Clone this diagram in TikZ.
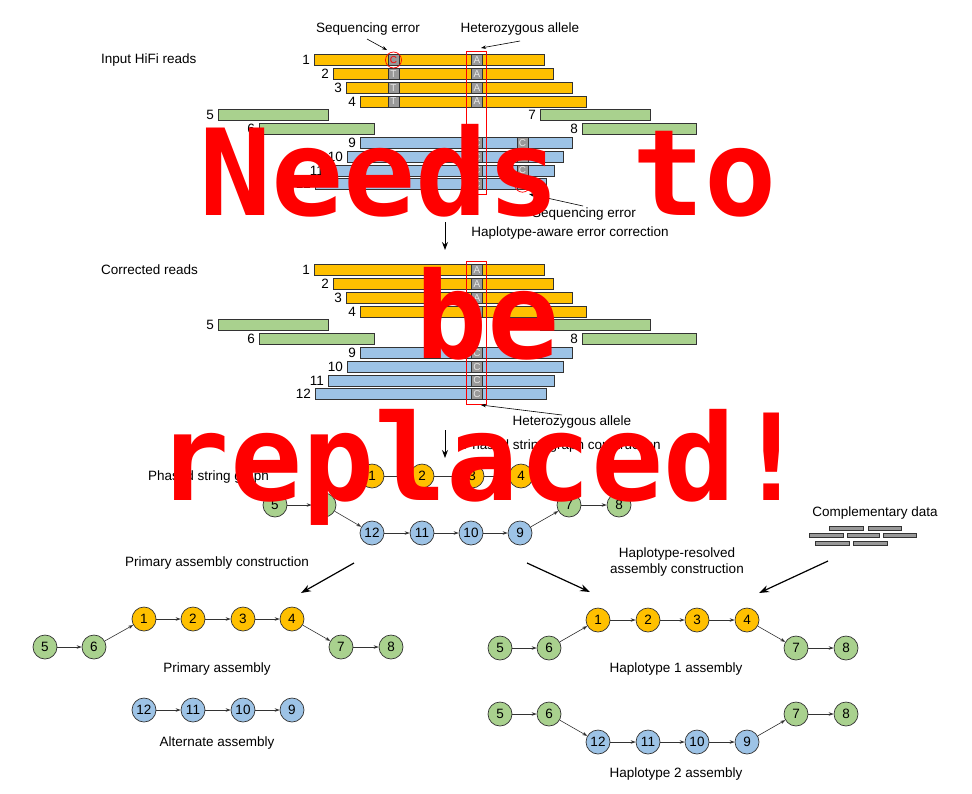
\documentclass[tikz,border=0pt]{standalone}
\usepackage{fontspec}
\setmainfont{Liberation Sans}
\newfontfamily\stampfont{DejaVu Sans Mono}
\usetikzlibrary{arrows.meta,positioning}
\definecolor{hapone}{HTML}{FFC000}
\definecolor{hapmix}{HTML}{A9D18E}
\definecolor{haptwo}{HTML}{9DC3E6}
\definecolor{edgegray}{HTML}{333333}
\definecolor{basegray}{HTML}{999999}
\tikzset{
  lbl/.style={font=\fontsize{13.5}{17}\selectfont, inner sep=0pt},
  readbar/.style={draw=edgegray, line width=0.8pt, minimum height=11pt, inner sep=0pt, anchor=west},
  basebox/.style={draw=edgegray, fill=basegray, line width=0.8pt, minimum width=11pt, minimum height=11pt,
    inner sep=0pt, text=white!90!black, font=\fontsize{10}{10}\selectfont},
  ctg/.style={circle, draw=edgegray, line width=0.7pt, minimum size=24pt, inner sep=0pt,
    font=\fontsize{13.5}{13.5}\selectfont},
  edge/.style={draw=edgegray, line width=0.6pt, -{Stealth[length=5pt,width=3.5pt]}},
  link/.style={draw=edgegray, line width=0.6pt},
  pointer/.style={line width=0.6pt, -{Stealth[length=5pt,width=3.5pt]}},
  bigarrow/.style={line width=1.2pt, -{Stealth[length=10pt,width=7pt]}},
  stamp/.style={text=red, anchor=base, inner sep=0pt, font=\stampfont\bfseries\fontsize{120}{120}\selectfont},
}
% name, colour, left x, length, y, number
\newcommand{\hifiread}[6]{%
  \node[readbar, fill=#2, minimum width=#4pt] (#1) at (#3,#5) {};
  \node[lbl, left=4pt of #1] (#1l) {#6};
}

\begin{document}
\begin{tikzpicture}[x=1pt, y=-1pt]
  %%%%% START %%%%%
  \useasboundingbox (0,0) rectangle (972,793);

  % input reads
  \node[lbl, anchor=west] (inlabel) at (101,60) {Input HiFi reads};
  \hifiread{in1}{hapone}{314}{230}{60}{1}
  \hifiread{in2}{hapone}{333}{220}{73.8}{2}
  \hifiread{in3}{hapone}{346}{226}{87.6}{3}
  \hifiread{in4}{hapone}{360}{226}{101.4}{4}
  \hifiread{in5}{hapmix}{218}{110}{115.2}{5}
  \hifiread{in6}{hapmix}{259}{115}{129}{6}
  \hifiread{in7}{hapmix}{540}{110}{115.2}{7}
  \hifiread{in8}{hapmix}{582}{114}{129}{8}
  \hifiread{in9}{haptwo}{360}{212}{142.8}{9}
  \hifiread{in10}{haptwo}{347}{216}{156.6}{10}
  \hifiread{in11}{haptwo}{328}{226}{170.4}{11}
  \hifiread{in12}{haptwo}{315}{231}{184.2}{12}

  \node[basebox, text=red] (in1t) at (393.5,60) {C};
  \node[basebox] (in2t) at (393.5,73.8) {T};
  \node[basebox] (in3t) at (393.5,87.6) {T};
  \node[basebox] (in4t) at (393.5,101.4) {T};
  \node[basebox] (in1a) at (477,60) {A};
  \node[basebox] (in2a) at (477,73.8) {A};
  \node[basebox] (in3a) at (477,87.6) {A};
  \node[basebox] (in4a) at (477,101.4) {A};
  \node[basebox] (in9a) at (477,142.8) {C};
  \node[basebox] (in10a) at (477,156.6) {C};
  \node[basebox] (in11a) at (477,170.4) {C};
  \node[basebox] (in12a) at (477,184.2) {C};
  \node[basebox] (in9e) at (522.5,142.8) {C};
  \node[basebox] (in10e) at (522.5,156.6) {C};
  \node[basebox] (in11e) at (522.5,170.4) {C};
  \node[basebox] (in12e) at (522.5,184.2) {T};

  \draw[red, line width=0.7pt] (in1t) circle (8);
  \draw[red, line width=0.7pt] (in12e) circle (8);
  \draw[red, line width=0.6pt] (466,51) rectangle (486,194);

  \node[lbl] (seqtop) at (368,29) {Sequencing error};
  \node[lbl] (hettop) at (520,29) {Heterozygous allele};
  \coordinate (seqtoptail) at (367,39);
  \coordinate (seqtophead) at (387,50);
  \coordinate (hettoptail) at (520,41);
  \coordinate (hettophead) at (481,48);
  \draw[pointer] (seqtoptail) -- (seqtophead);
  \draw[pointer] (hettoptail) -- (hettophead);

  \node[lbl] (seqlow) at (584,214) {Sequencing error};
  \coordinate (seqlowtail) at (583,206);
  \coordinate (seqlowhead) at (529,194);
  \draw[pointer] (seqlowtail) -- (seqlowhead);

  \node[lbl] (correct) at (570,233) {Haplotype-aware error correction};
  \coordinate (stepone) at (445,222);
  \coordinate (steptwo) at (445,250);
  \draw[pointer, line width=1pt, -{Stealth[length=8pt,width=6pt]}] (stepone) -- (steptwo);

  % corrected reads
  \node[lbl, anchor=west] (colabel) at (101,270) {Corrected reads};
  \hifiread{co1}{hapone}{314}{230}{270}{1}
  \hifiread{co2}{hapone}{333}{220}{283.8}{2}
  \hifiread{co3}{hapone}{346}{226}{297.6}{3}
  \hifiread{co4}{hapone}{360}{226}{311.4}{4}
  \hifiread{co5}{hapmix}{218}{110}{325.2}{5}
  \hifiread{co6}{hapmix}{259}{115}{339}{6}
  \hifiread{co7}{hapmix}{540}{110}{325.2}{7}
  \hifiread{co8}{hapmix}{582}{114}{339}{8}
  \hifiread{co9}{haptwo}{360}{212}{352.8}{9}
  \hifiread{co10}{haptwo}{347}{216}{366.6}{10}
  \hifiread{co11}{haptwo}{328}{226}{380.4}{11}
  \hifiread{co12}{haptwo}{315}{231}{394.2}{12}

  \node[basebox] (co1a) at (477,270) {A};
  \node[basebox] (co2a) at (477,283.8) {A};
  \node[basebox] (co3a) at (477,297.6) {A};
  \node[basebox] (co4a) at (477,311.4) {A};
  \node[basebox] (co9a) at (477,352.8) {C};
  \node[basebox] (co10a) at (477,366.6) {C};
  \node[basebox] (co11a) at (477,380.4) {C};
  \node[basebox] (co12a) at (477,394.2) {C};
  \draw[red, line width=0.6pt] (466,261) rectangle (486,404);

  \node[lbl] (hetlow) at (572,422) {Heterozygous allele};
  \coordinate (hetlowtail) at (562,415);
  \coordinate (hetlowhead) at (481,405);
  \draw[pointer] (hetlowtail) -- (hetlowhead);

  \node[lbl] (phasing) at (562,446) {Phased string graph construction};
  \coordinate (stepthree) at (445,430);
  \coordinate (stepfour) at (445,458);
  \draw[pointer, line width=1pt, -{Stealth[length=8pt,width=6pt]}] (stepthree) -- (stepfour);

  % phased string graph
  \node[lbl, anchor=west] (pglabel) at (148,477) {Phased string graph};
  \node[ctg, fill=hapone] (p1) at (372,476) {1};
  \node[ctg, fill=hapone] (p2) at (422,476) {2};
  \node[ctg, fill=hapone] (p3) at (472,476) {3};
  \node[ctg, fill=hapone] (p4) at (521,476) {4};
  \node[ctg, fill=hapmix] (p5) at (275,505) {5};
  \node[ctg, fill=hapmix] (p6) at (324,505) {6};
  \node[ctg, fill=hapmix] (p7) at (569,505) {7};
  \node[ctg, fill=hapmix] (p8) at (619,505) {8};
  \node[ctg, fill=haptwo] (p12) at (372,533) {12};
  \node[ctg, fill=haptwo] (p11) at (422,533) {11};
  \node[ctg, fill=haptwo] (p10) at (471,533) {10};
  \node[ctg, fill=haptwo] (p9) at (520,533) {9};
  \draw[edge] (p5) -- (p6);
  \draw[edge] (p6) -- (p1);
  \draw[link] (p1) -- (p2);
  \draw[link] (p2) -- (p3);
  \draw[link] (p3) -- (p4);
  \draw[edge] (p4) -- (p7);
  \draw[edge] (p6) -- (p12);
  \draw[edge] (p12) -- (p11);
  \draw[edge] (p11) -- (p10);
  \draw[edge] (p10) -- (p9);
  \draw[edge] (p9) -- (p7);
  \draw[edge] (p7) -- (p8);

  % assembly steps
  \node[lbl] (primstep) at (217,563) {Primary assembly construction};
  \node[lbl, align=center] (hapstep) at (677,562) {Haplotype-resolved\\assembly construction};
  \node[lbl] (compdata) at (875,513) {Complementary data};
  \foreach \xa/\xb/\yy in {829/863/528, 868/901/528, 809/843/535.5, 847/879/535.5, 883/916/535.5,
                           815/849/543, 853/887/543}
    \draw[draw=edgegray, fill=basegray, line width=0.6pt] (\xa,\yy-2) rectangle (\xb,\yy+2);
  \coordinate (primtail) at (354,563);
  \coordinate (primhead) at (301,593);
  \coordinate (haptail) at (527,563);
  \coordinate (haphead) at (590,592);
  \coordinate (comptail) at (828,561);
  \coordinate (comphead) at (759,593);
  \draw[bigarrow] (primtail) -- (primhead);
  \draw[bigarrow] (haptail) -- (haphead);
  \draw[bigarrow] (comptail) -- (comphead);

  % primary and alternate assembly
  \node[ctg, fill=hapmix] (a5) at (45,647) {5};
  \node[ctg, fill=hapmix] (a6) at (94,647) {6};
  \node[ctg, fill=hapone] (a1) at (144,619) {1};
  \node[ctg, fill=hapone] (a2) at (193,619) {2};
  \node[ctg, fill=hapone] (a3) at (243,619) {3};
  \node[ctg, fill=hapone] (a4) at (292,619) {4};
  \node[ctg, fill=hapmix] (a7) at (341,647) {7};
  \node[ctg, fill=hapmix] (a8) at (391,647) {8};
  \draw[edge] (a5) -- (a6);
  \draw[edge] (a6) -- (a1);
  \draw[edge] (a1) -- (a2);
  \draw[edge] (a2) -- (a3);
  \draw[edge] (a3) -- (a4);
  \draw[edge] (a4) -- (a7);
  \draw[edge] (a7) -- (a8);
  \node[lbl] (primname) at (217,669) {Primary assembly};

  \node[ctg, fill=haptwo] (a12) at (144,710) {12};
  \node[ctg, fill=haptwo] (a11) at (193,710) {11};
  \node[ctg, fill=haptwo] (a10) at (243,710) {10};
  \node[ctg, fill=haptwo] (a9) at (292,710) {9};
  \draw[edge] (a12) -- (a11);
  \draw[edge] (a11) -- (a10);
  \draw[edge] (a10) -- (a9);
  \node[lbl] (altname) at (217,743) {Alternate assembly};

  % haplotype 1
  \node[ctg, fill=hapmix] (h5) at (500,648) {5};
  \node[ctg, fill=hapmix] (h6) at (549,648) {6};
  \node[ctg, fill=hapone] (h1) at (598,620) {1};
  \node[ctg, fill=hapone] (h2) at (648,620) {2};
  \node[ctg, fill=hapone] (h3) at (697,620) {3};
  \node[ctg, fill=hapone] (h4) at (747,620) {4};
  \node[ctg, fill=hapmix] (h7) at (796,648) {7};
  \node[ctg, fill=hapmix] (h8) at (846,648) {8};
  \draw[edge] (h5) -- (h6);
  \draw[edge] (h6) -- (h1);
  \draw[edge] (h1) -- (h2);
  \draw[edge] (h2) -- (h3);
  \draw[edge] (h3) -- (h4);
  \draw[edge] (h4) -- (h7);
  \draw[edge] (h7) -- (h8);
  \node[lbl] (honame) at (676,669) {Haplotype 1 assembly};

  % haplotype 2
  \node[ctg, fill=hapmix] (k5) at (500,714) {5};
  \node[ctg, fill=hapmix] (k6) at (549,714) {6};
  \node[ctg, fill=haptwo] (k12) at (598,742) {12};
  \node[ctg, fill=haptwo] (k11) at (648,742) {11};
  \node[ctg, fill=haptwo] (k10) at (697,742) {10};
  \node[ctg, fill=haptwo] (k9) at (747,742) {9};
  \node[ctg, fill=hapmix] (k7) at (796,714) {7};
  \node[ctg, fill=hapmix] (k8) at (846,714) {8};
  \draw[edge] (k5) -- (k6);
  \draw[edge] (k6) -- (k12);
  \draw[edge] (k12) -- (k11);
  \draw[edge] (k11) -- (k10);
  \draw[edge] (k10) -- (k9);
  \draw[edge] (k9) -- (k7);
  \draw[edge] (k7) -- (k8);
  \node[lbl] (htname) at (676,774) {Haplotype 2 assembly};

  % overlay
  \node[stamp] (stampa) at (488,215) {Needs to};
  \node[stamp] (stampb) at (488,358) {be};
  \node[stamp] (stampc) at (483,500) {replaced!};
  %%%%% END %%%%%
\end{tikzpicture}
\end{document}
